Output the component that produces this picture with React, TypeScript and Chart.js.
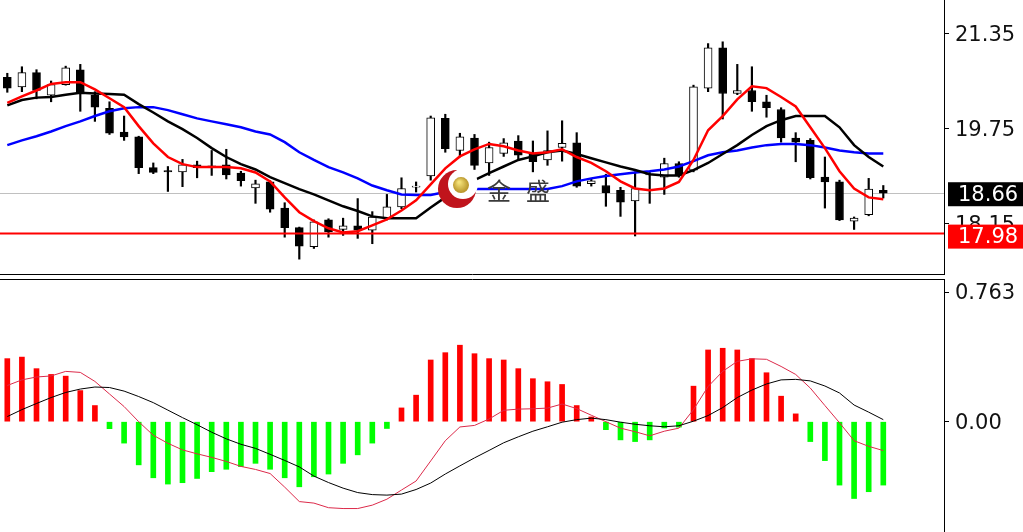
import React, { useEffect, useRef } from "react";
import { Chart, registerables } from "chart.js";
Chart.register(...registerables);

// ---------- data ----------
const OPEN = [20.61, 20.45, 20.69, 20.31, 20.49, 20.74, 20.31, 20.09, 19.69, 19.61,
  19.09, 19.04, 19.02, 19.14, 19.12, 19.14, 19.00, 18.75, 18.85, 18.41,
  18.08, 17.76, 18.21, 18.05, 18.11, 18.04, 18.23, 18.43, 18.76, 18.95,
  19.92, 19.38, 19.59, 19.17, 19.33, 19.54, 19.33, 19.22, 19.43, 19.51,
  18.82, 18.79, 18.71, 18.53, 18.97, 18.93, 19.16, 19.05, 20.43, 21.11,
  20.34, 20.39, 20.20, 20.07, 19.59, 19.55, 18.93, 18.85, 18.19, 18.30, 18.71];
const HIGH = [20.68, 20.79, 20.74, 20.55, 20.80, 20.83, 20.37, 20.20, 19.96, 19.62,
  19.17, 19.11, 19.23, 19.20, 19.38, 19.40, 19.03, 18.88, 18.87, 18.50,
  18.09, 18.21, 18.23, 18.24, 18.57, 18.35, 18.64, 18.92, 18.85, 19.96,
  19.99, 19.67, 19.65, 19.52, 19.58, 19.63, 19.54, 19.71, 19.88, 19.68,
  18.91, 18.98, 18.76, 19.02, 19.01, 19.25, 19.19, 20.48, 21.18, 21.21,
  20.83, 20.79, 20.31, 20.10, 19.68, 19.58, 19.27, 18.88, 18.26, 18.91, 18.79];
const LOW = [20.36, 20.37, 20.25, 20.20, 20.48, 20.04, 19.87, 19.65, 19.55, 18.99,
  18.99, 18.69, 18.77, 18.92, 18.96, 18.90, 18.78, 18.49, 18.34, 17.92,
  17.55, 17.73, 17.92, 17.95, 17.90, 17.81, 18.21, 18.40, 18.68, 18.88,
  19.35, 19.27, 19.06, 18.96, 19.28, 19.22, 19.02, 19.13, 19.20, 18.76,
  18.78, 18.44, 18.27, 17.94, 18.49, 18.64, 18.93, 19.02, 20.37, 19.91,
  20.32, 20.04, 19.94, 19.52, 19.19, 18.90, 18.41, 18.20, 18.05, 18.28, 18.58];
const CLOSE = [20.43, 20.69, 20.39, 20.49, 20.77, 20.37, 20.11, 19.67, 19.61, 19.09,
  19.01, 19.02, 19.14, 19.09, 19.10, 18.97, 18.87, 18.82, 18.39, 18.08,
  17.77, 18.18, 18.01, 18.11, 18.04, 18.26, 18.43, 18.74, 18.78, 19.93,
  19.41, 19.61, 19.13, 19.43, 19.51, 19.30, 19.19, 19.38, 19.50, 18.78,
  18.87, 18.67, 18.51, 18.74, 18.98, 19.16, 18.96, 20.45, 21.11, 20.34,
  20.39, 20.20, 20.10, 19.59, 19.52, 18.92, 18.85, 18.21, 18.24, 18.73, 18.66];

const MA_FAST = [20.18, 20.29, 20.39, 20.50, 20.53, 20.53, 20.41, 20.26, 20.11, 19.79,
  19.50, 19.27, 19.15, 19.10, 19.10, 19.10, 19.08, 19.01, 18.86, 18.59,
  18.34, 18.19, 18.07, 18.00, 18.02, 18.12, 18.22, 18.37, 18.54, 18.81,
  19.08, 19.28, 19.40, 19.49, 19.45, 19.38, 19.33, 19.35, 19.40, 19.27,
  19.17, 19.03, 18.86, 18.74, 18.71, 18.74, 18.85, 19.22, 19.72, 19.96,
  20.24, 20.46, 20.43, 20.28, 20.12, 19.77, 19.42, 19.03, 18.74, 18.59, 18.56];
const MA_MID = [20.14, 20.23, 20.27, 20.28, 20.32, 20.35, 20.34, 20.33, 20.32, 20.16,
  20.02, 19.87, 19.74, 19.59, 19.42, 19.27, 19.15, 19.06, 18.93, 18.83,
  18.73, 18.64, 18.54, 18.44, 18.36, 18.27, 18.24, 18.24, 18.24, 18.42,
  18.59, 18.74, 18.88, 19.00, 19.11, 19.22, 19.28, 19.35, 19.38, 19.32,
  19.25, 19.18, 19.11, 19.05, 18.98, 18.96, 18.96, 19.05, 19.17, 19.32,
  19.47, 19.64, 19.79, 19.89, 19.96, 19.96, 19.96, 19.77, 19.47, 19.27, 19.11];
const MA_SLOW = [19.47, 19.55, 19.62, 19.70, 19.79, 19.87, 19.96, 20.04, 20.09, 20.11,
  20.11, 20.06, 19.99, 19.92, 19.87, 19.82, 19.77, 19.70, 19.65, 19.52,
  19.35, 19.22, 19.10, 19.01, 18.91, 18.79, 18.71, 18.64, 18.63, 18.63,
  18.68, 18.71, 18.73, 18.73, 18.73, 18.73, 18.73, 18.73, 18.78, 18.86,
  18.91, 18.95, 18.98, 19.01, 19.03, 19.06, 19.11, 19.20, 19.30, 19.35,
  19.38, 19.43, 19.47, 19.49, 19.49, 19.47, 19.43, 19.38, 19.35, 19.33, 19.33];

const MACD_HIST = [0.371, 0.380, 0.312, 0.278, 0.268, 0.183, 0.095, -0.041, -0.126, -0.254,
  -0.330, -0.367, -0.359, -0.334, -0.294, -0.280, -0.264, -0.245, -0.280, -0.330,
  -0.383, -0.324, -0.308, -0.245, -0.195, -0.126, -0.040, 0.081, 0.156, 0.363,
  0.406, 0.450, 0.400, 0.371, 0.363, 0.312, 0.253, 0.235, 0.219, 0.095,
  0.028, -0.047, -0.107, -0.117, -0.107, -0.037, -0.032, 0.209, 0.422, 0.432,
  0.422, 0.371, 0.288, 0.150, 0.046, -0.117, -0.229, -0.373, -0.452, -0.412, -0.373];
const MACD_MAIN = [0.030, 0.071, 0.107, 0.142, 0.172, 0.192, 0.204, 0.201, 0.180, 0.148,
  0.112, 0.068, 0.024, -0.018, -0.062, -0.101, -0.133, -0.157, -0.192, -0.228,
  -0.266, -0.320, -0.358, -0.391, -0.417, -0.429, -0.432, -0.426, -0.399, -0.361,
  -0.308, -0.260, -0.213, -0.169, -0.124, -0.089, -0.056, -0.030, -0.003, 0.012,
  0.021, 0.012, -0.003, -0.015, -0.024, -0.030, -0.024, 0.003, 0.036, 0.083,
  0.142, 0.186, 0.222, 0.246, 0.249, 0.240, 0.210, 0.169, 0.098, 0.056, 0.012];
const MACD_SIGNAL = [0.213, 0.246, 0.263, 0.269, 0.296, 0.290, 0.237, 0.163, 0.089, 0.000,
  -0.080, -0.127, -0.166, -0.189, -0.210, -0.234, -0.263, -0.281, -0.305, -0.385,
  -0.470, -0.479, -0.506, -0.511, -0.511, -0.491, -0.456, -0.402, -0.349, -0.231,
  -0.112, -0.031, -0.022, 0.016, 0.067, 0.074, 0.076, 0.080, 0.104, 0.077,
  0.038, 0.000, -0.038, -0.059, -0.083, -0.056, -0.038, 0.071, 0.207, 0.296,
  0.355, 0.370, 0.367, 0.325, 0.278, 0.198, 0.095, -0.006, -0.112, -0.145, -0.170];

const PRICE_TICKS = [18.15, 19.75, 21.35];
const MACD_TICKS = [0, 0.763];
const LAST_PRICE = 18.66;
const SUPPORT_PRICE = 17.98;
const PRICE_MIN = 17.283;
const PRICE_MAX = 21.914;
const MACD_MIN = -0.649;
const MACD_MAX = 0.8395;
const X_MIN = -0.5;
const X_MAX = 64.158;
const WATERMARK_TEXT = ["金", "盛"];

// ---------- layout / style ----------
const W = 1023;
const TOP_H = 275;
const BOT_TOP = 279;
const BOT_H = 532 - 279;
const AXIS_W = 79;
const FONT = '"DejaVu Sans", Verdana, sans-serif';
const FONT_SIZE = 21;

const idx = CLOSE.map((_, i) => i);

const baseOptions = (yMin: number, yMax: number, ticks: number[], fmt: (v: number) => string) => ({
  animation: false,
  responsive: false,
  maintainAspectRatio: false,
  layout: { padding: 0, autoPadding: false },
  plugins: { legend: { display: false }, tooltip: { enabled: false } },
  scales: {
    x: { type: "linear", display: false, min: X_MIN, max: X_MAX, offset: false, grid: { offset: false } },
    y: {
      position: "right",
      min: yMin,
      max: yMax,
      offset: false,
      afterBuildTicks: (s: any) => { s.ticks = ticks.map((v) => ({ value: v })); },
      afterFit: (s: any) => { s.width = AXIS_W; s.paddingTop = 0; s.paddingBottom = 0; },
      ticks: {
        font: { family: FONT, size: FONT_SIZE },
        color: "#111",
        padding: 6,
        labelOffset: 2,
        callback: (v: any) => fmt(Number(v)),
      },
      grid: { drawOnChartArea: false, drawTicks: true, tickLength: 5, color: "#000", lineWidth: 1 },
      border: { display: true, color: "#000", width: 1 },
    },
  },
});

const priceLinesPlugin = {
  id: "priceLines",
  beforeDatasetsDraw(chart: any) {
    const { ctx, chartArea } = chart;
    const y = Math.round(chart.scales.y.getPixelForValue(LAST_PRICE)) + 0.5;
    ctx.save();
    ctx.strokeStyle = "#c0c0c0";
    ctx.lineWidth = 1;
    ctx.beginPath();
    ctx.moveTo(chartArea.left, y);
    ctx.lineTo(chartArea.right, y);
    ctx.stroke();
    ctx.restore();
  },
  afterDatasetsDraw(chart: any) {
    const { ctx, chartArea } = chart;
    const y = chart.scales.y.getPixelForValue(SUPPORT_PRICE);
    ctx.save();
    ctx.strokeStyle = "#ff0000";
    ctx.lineWidth = 2;
    ctx.beginPath();
    ctx.moveTo(chartArea.left, y);
    ctx.lineTo(chartArea.right, y);
    ctx.stroke();

    // watermark logo + text
    const cx = chart.scales.x.getPixelForValue(30.8);
    const cy = chart.scales.y.getPixelForValue(18.73);
    ctx.fillStyle = "#c0141c";
    ctx.beginPath();
    ctx.arc(cx, cy, 19, 0, Math.PI * 2);
    ctx.fill();
    ctx.fillStyle = "#ffffff";
    ctx.beginPath();
    ctx.arc(cx + 6, cy - 5, 15, 0, Math.PI * 2);
    ctx.fill();
    const g = ctx.createRadialGradient(cx + 2, cy - 7, 1, cx + 4, cy - 4, 9);
    g.addColorStop(0, "#f4e27a");
    g.addColorStop(1, "#b08a1e");
    ctx.fillStyle = g;
    ctx.beginPath();
    ctx.arc(cx + 4, cy - 4, 8, 0, Math.PI * 2);
    ctx.fill();
    ctx.fillStyle = "#3a3a3a";
    ctx.font = '24px "Noto Sans CJK SC"';
    ctx.textBaseline = "alphabetic";
    ctx.fillText(WATERMARK_TEXT[0], cx + 30, cy + 11);
    ctx.fillText(WATERMARK_TEXT[1], cx + 69, cy + 11);
    ctx.restore();
  },
  afterDraw(chart: any) {
    const { ctx, chartArea } = chart;
    ctx.save();
    ctx.strokeStyle = "#000";
    ctx.lineWidth = 1;
    ctx.beginPath();
    ctx.moveTo(0, chartArea.bottom - 0.5);
    ctx.lineTo(chartArea.right + 1, chartArea.bottom - 0.5);
    ctx.stroke();
    const box = (value: number, bg: string, dy: number) => {
      const y = chart.scales.y.getPixelForValue(value) + dy;
      const left = chartArea.right + 4;
      ctx.fillStyle = bg;
      ctx.fillRect(left, y - 12, W - left, 24);
      ctx.fillStyle = "#ffffff";
      ctx.font = `${FONT_SIZE}px ${FONT}`;
      ctx.textBaseline = "middle";
      ctx.textAlign = "left";
      ctx.fillText(value.toFixed(2), chartArea.right + 14, y + 1);
    };
    box(LAST_PRICE, "#000000", 1);
    box(SUPPORT_PRICE, "#ff0000", 3);
    ctx.restore();
  },
};

const macdFramePlugin = {
  id: "macdFrame",
  afterDraw(chart: any) {
    const { ctx, chartArea } = chart;
    ctx.save();
    ctx.strokeStyle = "#000";
    ctx.lineWidth = 1;
    ctx.beginPath();
    ctx.moveTo(0, 0.5);
    ctx.lineTo(chartArea.right + 1, 0.5);
    ctx.stroke();
    ctx.restore();
  },
};

export default function App() {
  const topRef = useRef<HTMLCanvasElement | null>(null);
  const botRef = useRef<HTMLCanvasElement | null>(null);

  useEffect(() => {
    const top = new Chart(topRef.current as HTMLCanvasElement, {
      type: "bar",
      data: {
        datasets: [
          {
            type: "line", label: "MA fast", order: 0,
            data: idx.map((i) => ({ x: i, y: MA_FAST[i] })),
            borderColor: "#ff0000", borderWidth: 2.5, pointRadius: 0, tension: 0,
          },
          {
            type: "line", label: "MA mid", order: 0,
            data: idx.map((i) => ({ x: i, y: MA_MID[i] })),
            borderColor: "#000000", borderWidth: 2.5, pointRadius: 0, tension: 0,
          },
          {
            type: "line", label: "MA slow", order: 0,
            data: idx.map((i) => ({ x: i, y: MA_SLOW[i] })),
            borderColor: "#0000ff", borderWidth: 2.5, pointRadius: 0, tension: 0,
          },
          {
            type: "bar", label: "body", order: 1,
            data: idx.map((i) => ({ x: i, y: [OPEN[i], CLOSE[i]] })),
            backgroundColor: idx.map((i) => (CLOSE[i] >= OPEN[i] ? "#ffffff" : "#000000")),
            borderColor: "#000000", borderWidth: 1, borderSkipped: false,
            barThickness: 8, grouped: false,
          },
          {
            type: "bar", label: "wick", order: 2,
            data: idx.map((i) => ({ x: i, y: [LOW[i], HIGH[i]] })),
            backgroundColor: "#000000", barThickness: 1.5, grouped: false,
          },
        ],
      } as any,
      options: baseOptions(PRICE_MIN, PRICE_MAX, PRICE_TICKS, (v) => v.toFixed(2)) as any,
      plugins: [priceLinesPlugin],
    });

    const bot = new Chart(botRef.current as HTMLCanvasElement, {
      type: "bar",
      data: {
        datasets: [
          {
            type: "line", label: "MACD", order: 0,
            data: idx.map((i) => ({ x: i, y: MACD_MAIN[i] })),
            borderColor: "#000000", borderWidth: 1, pointRadius: 0, tension: 0,
          },
          {
            type: "line", label: "Signal", order: 0,
            data: idx.map((i) => ({ x: i, y: MACD_SIGNAL[i] })),
            borderColor: "#dc2a4a", borderWidth: 1, pointRadius: 0, tension: 0,
          },
          {
            type: "bar", label: "Histogram", order: 1,
            data: idx.map((i) => ({ x: i, y: MACD_HIST[i] })),
            backgroundColor: idx.map((i) => (MACD_HIST[i] >= 0 ? "#ff0000" : "#00ff00")),
            barThickness: 5, grouped: false,
          },
        ],
      } as any,
      options: baseOptions(MACD_MIN, MACD_MAX, MACD_TICKS, (v) => (v === 0 ? "0.00" : v.toFixed(3))) as any,
      plugins: [macdFramePlugin],
    });

    return () => {
      top.destroy();
      bot.destroy();
    };
  }, []);

  return (
    <div style={{ position: "fixed", left: 0, top: 0, width: W, height: 532, background: "#fff" }}>
      <canvas ref={topRef} width={W} height={TOP_H}
        style={{ position: "absolute", left: 0, top: 0, width: W, height: TOP_H, display: "block" }} />
      <canvas ref={botRef} width={W} height={BOT_H}
        style={{ position: "absolute", left: 0, top: BOT_TOP, width: W, height: BOT_H, display: "block" }} />
    </div>
  );
}
